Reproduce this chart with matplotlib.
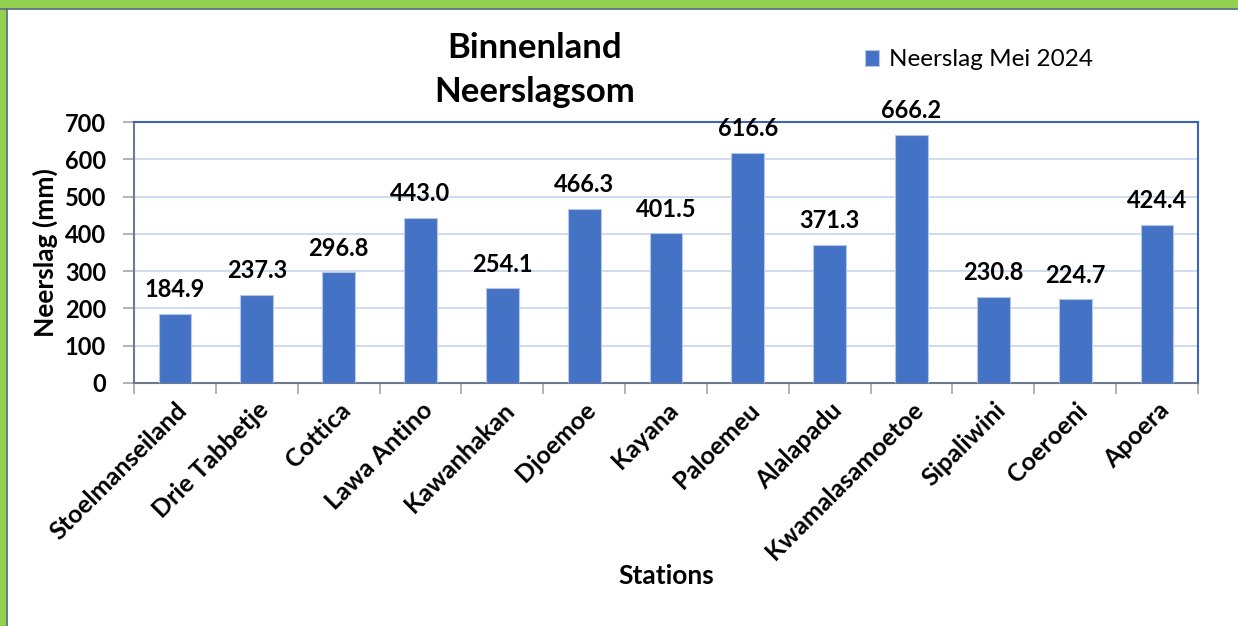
import numpy as np
import matplotlib.pyplot as plt
from matplotlib.patches import Rectangle
from matplotlib.lines import Line2D

plt.rcParams['font.family'] = ['Lato', 'DejaVu Sans']

stations = ['Stoelmanseiland', 'Drie Tabbetje', 'Cottica', 'Lawa Antino', 'Kawanhakan',
            'Djoemoe', 'Kayana', 'Paloemeu', 'Alalapadu', 'Kwamalasamoetoe',
            'Sipaliwini', 'Coeroeni', 'Apoera']
neerslag = [184.9, 237.3, 296.8, 443.0, 254.1, 466.3, 401.5, 616.6, 371.3, 666.2,
            230.8, 224.7, 424.4]
yticks = [0, 100, 200, 300, 400, 500, 600, 700]

fig = plt.figure(figsize=(12.38, 6.26), dpi=100)

# green frame at top and left
fig.patches.append(Rectangle((0, 1 - 8 / 626), 1, 8 / 626, transform=fig.transFigure,
                             color='#92d050', zorder=0))
fig.patches.append(Rectangle((0, 0), 6 / 1238, 1, transform=fig.transFigure,
                             color='#92d050', zorder=0))
fig.lines.append(Line2D([0, 1], [1 - 9 / 626, 1 - 9 / 626], transform=fig.transFigure,
                        color='#5a6a85', lw=1.2))
fig.lines.append(Line2D([6.5 / 1238, 6.5 / 1238], [0, 1 - 9 / 626], transform=fig.transFigure,
                        color='#5a6a85', lw=1.2))

ax = fig.add_axes([134 / 1238, 1 - 383 / 626, (1198 - 134) / 1238, (383 - 122) / 626])
x = np.arange(len(stations))
bars = ax.bar(x, neerslag, width=0.4, color='#4472c4', edgecolor='#b4c7e7',
              linewidth=0.8, zorder=3, label='Neerslag Mei 2024')

for xi, v in zip(x, neerslag):
    ax.text(xi, v + 34, f'{v:.1f}', ha='center', va='bottom', fontsize=17,
            fontweight='bold', color='black')

ax.set_xlim(-0.5, len(stations) - 0.5)
ax.set_ylim(0, 700)
ax.set_yticks(yticks)
ax.set_yticklabels([str(t) for t in yticks], fontsize=17, fontweight='bold')
ax.grid(axis='y', color='#c5d4ee', lw=1.2, zorder=0)

ax.set_xticks(x)
ax.set_xticklabels(stations, rotation=45, ha='right', rotation_mode='anchor',
                   fontsize=18, fontweight='bold')
ax.set_xticks(np.arange(len(stations) + 1) - 0.5, minor=True)
ax.tick_params(axis='x', which='major', length=0, pad=11)
ax.tick_params(axis='x', which='minor', length=8, color='#a6a6a6', width=1.2)
ax.tick_params(axis='y', length=8, color='#a6a6a6', width=1.2, pad=12)

for s in ['left', 'bottom']:
    ax.spines[s].set_color('#6b7a90')
    ax.spines[s].set_linewidth(1.5)
for s in ['top', 'right']:
    ax.spines[s].set_color('#3c64b0')
    ax.spines[s].set_linewidth(1.5)

ax.set_ylabel('Neerslag (mm)', fontsize=19, fontweight='bold', labelpad=5)
ax.set_xlabel('Stations', fontsize=19, fontweight='bold', labelpad=0)

fig.text(535 / 1238, 1 - 70 / 626, 'Binnenland\nNeerslagsom', ha='center', va='center',
         fontsize=25, fontweight='bold', linespacing=1.45)

ax.legend(loc='center left', bbox_to_anchor=(843 / 1238, 1 - 60 / 626),
          bbox_transform=fig.transFigure, frameon=False, fontsize=17.5,
          handlelength=0.6, handleheight=0.6, handletextpad=0.4)

fig.savefig('out.png', dpi=100, facecolor='white')
